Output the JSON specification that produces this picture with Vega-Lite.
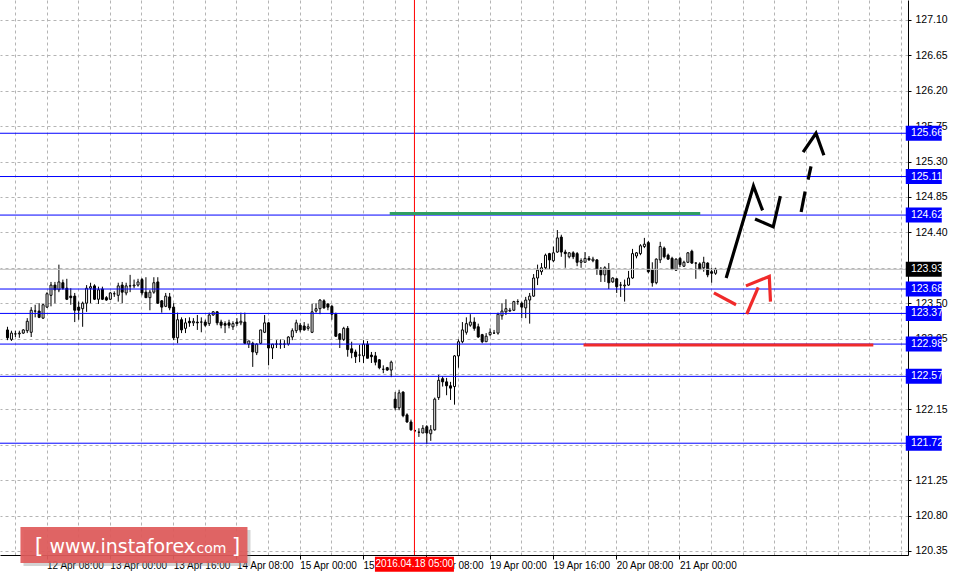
{
  "$schema": "https://vega.github.io/schema/vega-lite/v6.json",
  "width": 908,
  "height": 555,
  "autosize": "none",
  "padding": {"left": 0, "top": 0, "right": 51, "bottom": 22},
  "background": "white",
  "config": {
    "view": {"stroke": null},
    "font": "Liberation Sans",
    "axis": {"labelFont": "Liberation Sans", "labelFontSize": 10, "labelColor": "black", "zindex": 0}
  },
  "datasets": {
    "candles": [
      {"i":0,"o":123.16,"h":123.20,"l":123.03,"c":123.06},
      {"i":1,"o":123.04,"h":123.15,"l":123.02,"c":123.12},
      {"i":2,"o":123.11,"h":123.15,"l":123.07,"c":123.11},
      {"i":3,"o":123.11,"h":123.15,"l":123.06,"c":123.12},
      {"i":4,"o":123.12,"h":123.17,"l":123.11,"c":123.16},
      {"i":5,"o":123.15,"h":123.31,"l":123.12,"c":123.27},
      {"i":6,"o":123.13,"h":123.45,"l":123.07,"c":123.41},
      {"i":7,"o":123.40,"h":123.48,"l":123.32,"c":123.40},
      {"i":8,"o":123.40,"h":123.50,"l":123.31,"c":123.32},
      {"i":9,"o":123.31,"h":123.49,"l":123.30,"c":123.48},
      {"i":10,"o":123.45,"h":123.64,"l":123.44,"c":123.62},
      {"i":11,"o":123.60,"h":123.77,"l":123.46,"c":123.73},
      {"i":12,"o":123.73,"h":123.77,"l":123.50,"c":123.67},
      {"i":13,"o":123.67,"h":123.99,"l":123.64,"c":123.77},
      {"i":14,"o":123.76,"h":123.80,"l":123.67,"c":123.69},
      {"i":15,"o":123.69,"h":123.81,"l":123.54,"c":123.55},
      {"i":16,"o":123.59,"h":123.69,"l":123.48,"c":123.57},
      {"i":17,"o":123.59,"h":123.63,"l":123.26,"c":123.41},
      {"i":18,"o":123.45,"h":123.52,"l":123.29,"c":123.41},
      {"i":19,"o":123.43,"h":123.52,"l":123.20,"c":123.50},
      {"i":20,"o":123.50,"h":123.73,"l":123.39,"c":123.69},
      {"i":21,"o":123.69,"h":123.76,"l":123.50,"c":123.71},
      {"i":22,"o":123.72,"h":123.74,"l":123.54,"c":123.55},
      {"i":23,"o":123.55,"h":123.71,"l":123.49,"c":123.67},
      {"i":24,"o":123.68,"h":123.71,"l":123.54,"c":123.55},
      {"i":25,"o":123.57,"h":123.59,"l":123.53,"c":123.54},
      {"i":26,"o":123.55,"h":123.64,"l":123.54,"c":123.63},
      {"i":27,"o":123.62,"h":123.65,"l":123.58,"c":123.62},
      {"i":28,"o":123.60,"h":123.76,"l":123.52,"c":123.72},
      {"i":29,"o":123.73,"h":123.77,"l":123.50,"c":123.64},
      {"i":30,"o":123.63,"h":123.76,"l":123.60,"c":123.72},
      {"i":31,"o":123.72,"h":123.86,"l":123.64,"c":123.72},
      {"i":32,"o":123.72,"h":123.80,"l":123.69,"c":123.73},
      {"i":33,"o":123.73,"h":123.81,"l":123.71,"c":123.77},
      {"i":34,"o":123.80,"h":123.82,"l":123.60,"c":123.63},
      {"i":35,"o":123.64,"h":123.83,"l":123.57,"c":123.57},
      {"i":36,"o":123.57,"h":123.67,"l":123.41,"c":123.64},
      {"i":37,"o":123.64,"h":123.83,"l":123.62,"c":123.76},
      {"i":38,"o":123.77,"h":123.83,"l":123.49,"c":123.50},
      {"i":39,"o":123.53,"h":123.54,"l":123.38,"c":123.45},
      {"i":40,"o":123.46,"h":123.63,"l":123.45,"c":123.59},
      {"i":41,"o":123.58,"h":123.63,"l":123.41,"c":123.44},
      {"i":42,"o":123.45,"h":123.50,"l":123.03,"c":123.06},
      {"i":43,"o":123.06,"h":123.38,"l":122.99,"c":123.29},
      {"i":44,"o":123.29,"h":123.32,"l":123.12,"c":123.16},
      {"i":45,"o":123.18,"h":123.31,"l":123.12,"c":123.25},
      {"i":46,"o":123.27,"h":123.32,"l":123.20,"c":123.25},
      {"i":47,"o":123.25,"h":123.31,"l":123.21,"c":123.27},
      {"i":48,"o":123.26,"h":123.35,"l":123.16,"c":123.25},
      {"i":49,"o":123.26,"h":123.32,"l":123.13,"c":123.26},
      {"i":50,"o":123.26,"h":123.29,"l":123.20,"c":123.22},
      {"i":51,"o":123.24,"h":123.38,"l":123.21,"c":123.35},
      {"i":52,"o":123.35,"h":123.40,"l":123.34,"c":123.39},
      {"i":53,"o":123.39,"h":123.40,"l":123.22,"c":123.25},
      {"i":54,"o":123.26,"h":123.29,"l":123.18,"c":123.22},
      {"i":55,"o":123.24,"h":123.27,"l":123.12,"c":123.22},
      {"i":56,"o":123.25,"h":123.29,"l":123.18,"c":123.22},
      {"i":57,"o":123.20,"h":123.27,"l":123.16,"c":123.24},
      {"i":58,"o":123.26,"h":123.31,"l":123.21,"c":123.24},
      {"i":59,"o":123.25,"h":123.38,"l":123.22,"c":123.27},
      {"i":60,"o":123.26,"h":123.38,"l":122.98,"c":122.99},
      {"i":61,"o":122.98,"h":123.02,"l":122.93,"c":123.02},
      {"i":62,"o":122.99,"h":123.01,"l":122.69,"c":122.88},
      {"i":63,"o":122.87,"h":122.99,"l":122.84,"c":122.98},
      {"i":64,"o":122.99,"h":123.16,"l":122.98,"c":123.16},
      {"i":65,"o":123.13,"h":123.35,"l":123.12,"c":123.25},
      {"i":66,"o":123.25,"h":123.26,"l":122.71,"c":122.93},
      {"i":67,"o":122.93,"h":122.98,"l":122.79,"c":122.98},
      {"i":68,"o":122.98,"h":123.03,"l":122.93,"c":122.98},
      {"i":69,"o":122.98,"h":123.04,"l":122.92,"c":122.98},
      {"i":70,"o":122.98,"h":123.03,"l":122.93,"c":122.98},
      {"i":71,"o":122.98,"h":123.08,"l":122.96,"c":123.07},
      {"i":72,"o":123.07,"h":123.18,"l":123.03,"c":123.15},
      {"i":73,"o":123.15,"h":123.29,"l":123.12,"c":123.25},
      {"i":74,"o":123.22,"h":123.25,"l":123.13,"c":123.16},
      {"i":75,"o":123.21,"h":123.26,"l":123.15,"c":123.16},
      {"i":76,"o":123.18,"h":123.24,"l":123.15,"c":123.20},
      {"i":77,"o":123.13,"h":123.49,"l":123.12,"c":123.39},
      {"i":78,"o":123.40,"h":123.50,"l":123.38,"c":123.43},
      {"i":79,"o":123.43,"h":123.55,"l":123.36,"c":123.54},
      {"i":80,"o":123.53,"h":123.55,"l":123.43,"c":123.44},
      {"i":81,"o":123.49,"h":123.50,"l":123.41,"c":123.45},
      {"i":82,"o":123.46,"h":123.48,"l":123.29,"c":123.36},
      {"i":83,"o":123.36,"h":123.38,"l":123.07,"c":123.08},
      {"i":84,"o":123.11,"h":123.12,"l":122.93,"c":123.04},
      {"i":85,"o":123.04,"h":123.20,"l":123.02,"c":123.18},
      {"i":86,"o":123.18,"h":123.21,"l":122.82,"c":122.91},
      {"i":87,"o":122.92,"h":123.01,"l":122.80,"c":122.87},
      {"i":88,"o":122.88,"h":122.91,"l":122.74,"c":122.82},
      {"i":89,"o":122.84,"h":122.97,"l":122.75,"c":122.84},
      {"i":90,"o":122.83,"h":123.03,"l":122.74,"c":122.98},
      {"i":91,"o":122.98,"h":123.02,"l":122.80,"c":122.80},
      {"i":92,"o":122.84,"h":122.88,"l":122.74,"c":122.82},
      {"i":93,"o":122.83,"h":122.88,"l":122.71,"c":122.75},
      {"i":94,"o":122.78,"h":122.79,"l":122.66,"c":122.68},
      {"i":95,"o":122.66,"h":122.71,"l":122.61,"c":122.66},
      {"i":96,"o":122.68,"h":122.69,"l":122.64,"c":122.65},
      {"i":97,"o":122.65,"h":122.77,"l":122.56,"c":122.75},
      {"i":98,"o":122.28,"h":122.37,"l":122.14,"c":122.17},
      {"i":99,"o":122.17,"h":122.40,"l":122.14,"c":122.36},
      {"i":100,"o":122.37,"h":122.38,"l":122.05,"c":122.07},
      {"i":101,"o":122.08,"h":122.10,"l":121.98,"c":121.99},
      {"i":102,"o":121.99,"h":122.02,"l":121.88,"c":121.89},
      {"i":103,"o":121.88,"h":121.89,"l":121.86,"c":121.88},
      {"i":104,"o":121.86,"h":121.91,"l":121.80,"c":121.86},
      {"i":105,"o":121.85,"h":121.95,"l":121.85,"c":121.91},
      {"i":106,"o":121.93,"h":121.95,"l":121.71,"c":121.85},
      {"i":107,"o":121.84,"h":121.95,"l":121.75,"c":121.89},
      {"i":108,"o":121.89,"h":122.30,"l":121.88,"c":122.28},
      {"i":109,"o":122.30,"h":122.59,"l":122.27,"c":122.52},
      {"i":110,"o":122.54,"h":122.57,"l":122.44,"c":122.50},
      {"i":111,"o":122.50,"h":122.55,"l":122.33,"c":122.45},
      {"i":112,"o":122.45,"h":122.50,"l":122.27,"c":122.42},
      {"i":113,"o":122.44,"h":122.84,"l":122.21,"c":122.83},
      {"i":114,"o":122.83,"h":123.04,"l":122.68,"c":123.01},
      {"i":115,"o":123.01,"h":123.26,"l":122.99,"c":123.16},
      {"i":116,"o":123.13,"h":123.32,"l":123.10,"c":123.24},
      {"i":117,"o":123.22,"h":123.36,"l":123.20,"c":123.26},
      {"i":118,"o":123.26,"h":123.32,"l":123.15,"c":123.18},
      {"i":119,"o":123.20,"h":123.24,"l":123.06,"c":123.07},
      {"i":120,"o":123.10,"h":123.11,"l":122.99,"c":123.01},
      {"i":121,"o":123.01,"h":123.12,"l":123.01,"c":123.08},
      {"i":122,"o":123.10,"h":123.18,"l":123.08,"c":123.13},
      {"i":123,"o":123.12,"h":123.16,"l":123.11,"c":123.12},
      {"i":124,"o":123.12,"h":123.38,"l":123.10,"c":123.36},
      {"i":125,"o":123.34,"h":123.50,"l":123.29,"c":123.40},
      {"i":126,"o":123.39,"h":123.55,"l":123.35,"c":123.43},
      {"i":127,"o":123.40,"h":123.44,"l":123.39,"c":123.41},
      {"i":128,"o":123.41,"h":123.53,"l":123.40,"c":123.52},
      {"i":129,"o":123.52,"h":123.55,"l":123.48,"c":123.52},
      {"i":130,"o":123.50,"h":123.52,"l":123.31,"c":123.45},
      {"i":131,"o":123.44,"h":123.58,"l":123.31,"c":123.54},
      {"i":132,"o":123.54,"h":123.63,"l":123.24,"c":123.59},
      {"i":133,"o":123.59,"h":123.87,"l":123.58,"c":123.82},
      {"i":134,"o":123.82,"h":123.99,"l":123.73,"c":123.92},
      {"i":135,"o":123.90,"h":124.01,"l":123.86,"c":123.95},
      {"i":136,"o":123.95,"h":124.13,"l":123.93,"c":124.11},
      {"i":137,"o":124.13,"h":124.14,"l":123.93,"c":124.05},
      {"i":138,"o":124.04,"h":124.22,"l":124.02,"c":124.14},
      {"i":139,"o":124.15,"h":124.43,"l":124.14,"c":124.33},
      {"i":140,"o":124.34,"h":124.37,"l":124.09,"c":124.15},
      {"i":141,"o":124.15,"h":124.18,"l":123.95,"c":124.13},
      {"i":142,"o":124.09,"h":124.15,"l":124.07,"c":124.14},
      {"i":143,"o":124.14,"h":124.16,"l":124.06,"c":124.09},
      {"i":144,"o":124.13,"h":124.15,"l":123.97,"c":124.02},
      {"i":145,"o":124.02,"h":124.07,"l":123.95,"c":124.04},
      {"i":146,"o":124.02,"h":124.15,"l":124.02,"c":124.07},
      {"i":147,"o":124.07,"h":124.10,"l":124.04,"c":124.05},
      {"i":148,"o":124.04,"h":124.09,"l":124.02,"c":124.06},
      {"i":149,"o":124.05,"h":124.06,"l":123.86,"c":123.93},
      {"i":150,"o":123.92,"h":123.96,"l":123.77,"c":123.86},
      {"i":151,"o":123.86,"h":123.97,"l":123.77,"c":123.95},
      {"i":152,"o":123.93,"h":124.01,"l":123.68,"c":123.76},
      {"i":153,"o":123.77,"h":123.83,"l":123.76,"c":123.82},
      {"i":154,"o":123.81,"h":123.82,"l":123.63,"c":123.71},
      {"i":155,"o":123.73,"h":123.77,"l":123.58,"c":123.73},
      {"i":156,"o":123.72,"h":123.80,"l":123.52,"c":123.73},
      {"i":157,"o":123.73,"h":123.91,"l":123.72,"c":123.82},
      {"i":158,"o":123.82,"h":124.19,"l":123.81,"c":124.13},
      {"i":159,"o":124.10,"h":124.15,"l":124.07,"c":124.14},
      {"i":160,"o":124.13,"h":124.25,"l":124.11,"c":124.23},
      {"i":161,"o":124.22,"h":124.33,"l":124.20,"c":124.25},
      {"i":162,"o":124.27,"h":124.29,"l":123.88,"c":123.90},
      {"i":163,"o":123.92,"h":124.02,"l":123.71,"c":123.76},
      {"i":164,"o":123.76,"h":124.07,"l":123.74,"c":124.06},
      {"i":165,"o":124.05,"h":124.28,"l":124.01,"c":124.22},
      {"i":166,"o":124.20,"h":124.22,"l":124.07,"c":124.09},
      {"i":167,"o":124.11,"h":124.13,"l":124.05,"c":124.06},
      {"i":168,"o":124.07,"h":124.09,"l":123.92,"c":123.93},
      {"i":169,"o":123.92,"h":124.07,"l":123.91,"c":124.06},
      {"i":170,"o":124.07,"h":124.09,"l":123.96,"c":123.99},
      {"i":171,"o":123.97,"h":124.04,"l":123.96,"c":124.02},
      {"i":172,"o":124.02,"h":124.15,"l":124.01,"c":124.14},
      {"i":173,"o":124.16,"h":124.18,"l":124.00,"c":124.01},
      {"i":174,"o":124.01,"h":124.02,"l":123.81,"c":124.01},
      {"i":175,"o":124.00,"h":124.02,"l":123.92,"c":123.93},
      {"i":176,"o":123.95,"h":124.09,"l":123.90,"c":124.02},
      {"i":177,"o":124.01,"h":124.02,"l":123.83,"c":123.86},
      {"i":178,"o":123.90,"h":123.95,"l":123.76,"c":123.88},
      {"i":179,"o":123.88,"h":123.95,"l":123.86,"c":123.93}
    ],
    "levels": [{"p":125.66},{"p":125.11},{"p":124.62},{"p":123.68},{"p":123.37},{"p":122.98},{"p":122.57},{"p":121.72}],
    "bid": [{"p":123.93}],
    "segments": [
      {"name":"green","i1":96.75,"i2":175.25,"p":124.64},
      {"name":"red","i1":145.75,"i2":219,"p":122.97}
    ],
    "blackPaths": [
      {"g":"b1","k":0,"i":181.8,"p":123.82},
      {"g":"b1","k":1,"i":188.7,"p":124.99},
      {"g":"b1","k":2,"i":191.0,"p":124.68},
      {"g":"b2","k":0,"i":189.1,"p":124.57},
      {"g":"b2","k":1,"i":193.7,"p":124.47},
      {"g":"b2","k":2,"i":195.5,"p":124.86},
      {"g":"b3","k":0,"i":200.75,"p":124.66},
      {"g":"b3","k":1,"i":201.75,"p":124.92},
      {"g":"b4","k":0,"i":202.5,"p":125.07},
      {"g":"b4","k":1,"i":203.25,"p":125.24},
      {"g":"b5","k":0,"i":201.25,"p":125.42},
      {"g":"b5","k":1,"i":204.5,"p":125.66},
      {"g":"b5","k":2,"i":206.5,"p":125.38}
    ],
    "redPaths": [
      {"g":"r1","k":0,"i":178.7,"p":123.63},
      {"g":"r1","k":1,"i":184.3,"p":123.48},
      {"g":"r2","k":0,"i":187.0,"p":123.36},
      {"g":"r2","k":1,"i":189.9,"p":123.70},
      {"g":"r3","k":0,"i":186.8,"p":123.72},
      {"g":"r3","k":1,"i":192.7,"p":123.84},
      {"g":"r3","k":2,"i":193.0,"p":123.52}
    ],
    "marker": [{"i":103,"label":"2016.04.18 05:00"}]
  },
  "resolve": {"axis": {"x": "independent", "y": "independent"}},
  "layer": [
    {
      "data": {"name": "candles"},
      "mark": {"type": "rule", "color": "black", "strokeWidth": 1, "xOffset": 0.5},
      "encoding": {
        "x": {"field": "i", "type": "quantitative",
          "scale": {"domain": [-0.5, 226.5], "nice": false, "zero": false},
          "axis": {"orient": "bottom", "zindex": 0, "values": [2,10,18,26,34,42,50,58,66,74,82,90,98,106,114,122,130,138,146,154,162,170,178,186,194,202,210,218,226],
            "labels": false, "ticks": false, "domain": false, "grid": true, "gridColor": "#b4b4b4", "gridDash": [3,3], "gridWidth": 1, "title": null}},
        "y": {"field": "l", "type": "quantitative",
          "scale": {"domain": [120.299, 127.354], "nice": false, "zero": false},
          "axis": {"orient": "right", "zindex": 0, "values": [127.1,126.65,126.2,125.75,125.3,124.85,124.4,123.95,123.5,123.05,122.6,122.15,121.7,121.25,120.8,120.35],
            "format": ".2f",
            "labelExpr": "(abs(datum.value-123.95)<0.001 || abs(datum.value-122.6)<0.001 || abs(datum.value-121.7)<0.001) ? '' : datum.label",
            "grid": true, "gridColor": "#b4b4b4", "gridDash": [3,3], "tickSize": 3, "tickColor": "black",
            "domainColor": "black", "labelPadding": 4, "labelFontSize": 10.5, "labelFlush": false, "labelOverlap": false, "title": null}},
        "y2": {"field": "h"}
      }
    },
    {
      "data": {"name": "candles"},
      "mark": {"type": "bar", "width": 2, "stroke": "black", "strokeWidth": 1, "xOffset": 0.5},
      "encoding": {
        "x": {"field": "i", "type": "quantitative",
          "axis": {"orient": "bottom", "zindex": 0, "values": [-6,10,26,42,58,74,90,106,122,138,154,170],
            "labelExpr": "['11 Apr 16:00','12 Apr 08:00','13 Apr 00:00','13 Apr 16:00','14 Apr 08:00','15 Apr 00:00','15 Apr 16:00','18 Apr 08:00','19 Apr 00:00','19 Apr 16:00','20 Apr 08:00','21 Apr 00:00'][round((datum.value+6)/16)]",
            "labelAlign": "left", "labelBaseline": "top", "labelPadding": 1, "labelFlush": false, "labelOverlap": false,
            "tickSize": 4, "tickColor": "black", "domainColor": "black", "grid": false, "title": null}},
        "y": {"field": "o", "type": "quantitative", "axis": null},
        "y2": {"field": "c"},
        "fill": {"condition": {"test": "datum.c >= datum.o", "value": "white"}, "value": "black"}
      }
    },
    {
      "data": {"name": "bid"},
      "mark": {"type": "rule", "color": "#c0c0c0", "strokeWidth": 1},
      "encoding": {"y": {"field": "p", "type": "quantitative", "axis": null}}
    },
    {
      "data": {"name": "levels"},
      "mark": {"type": "rule", "color": "#0000ff", "strokeWidth": 1},
      "encoding": {"y": {"field": "p", "type": "quantitative", "axis": null}}
    },
    {
      "data": {"name": "marker"},
      "mark": {"type": "rule", "color": "#ff0000", "strokeWidth": 1},
      "encoding": {"x": {"field": "i", "type": "quantitative", "axis": null}}
    },
    {
      "data": {"name": "segments"},
      "mark": {"type": "rule", "strokeWidth": 3},
      "encoding": {
        "x": {"field": "i1", "type": "quantitative", "axis": null},
        "x2": {"field": "i2"},
        "y": {"field": "p", "type": "quantitative", "axis": null},
        "color": {"field": "name", "type": "nominal", "scale": {"domain": ["green","red"], "range": ["#2f9e62","#f02a2a"]}, "legend": null}
      }
    },
    {
      "data": {"name": "blackPaths"},
      "mark": {"type": "line", "color": "black", "strokeWidth": 3.2, "strokeJoin": "miter"},
      "encoding": {
        "x": {"field": "i", "type": "quantitative", "axis": null},
        "y": {"field": "p", "type": "quantitative", "axis": null},
        "detail": {"field": "g"},
        "order": {"field": "k"}
      }
    },
    {
      "data": {"name": "redPaths"},
      "mark": {"type": "line", "color": "#f02a2a", "strokeWidth": 3.2, "strokeJoin": "miter"},
      "encoding": {
        "x": {"field": "i", "type": "quantitative", "axis": null},
        "y": {"field": "p", "type": "quantitative", "axis": null},
        "detail": {"field": "g"},
        "order": {"field": "k"}
      }
    },
    {
      "data": {"name": "levels"},
      "mark": {"type": "tick", "orient": "horizontal", "size": 36, "thickness": 15, "color": "#0000ff", "opacity": 1, "clip": false},
      "encoding": {
        "x": {"datum": 231.75, "type": "quantitative", "axis": null},
        "y": {"field": "p", "type": "quantitative", "axis": null}
      }
    },
    {
      "data": {"name": "bid"},
      "mark": {"type": "tick", "orient": "horizontal", "size": 36, "thickness": 15, "color": "black", "opacity": 1, "clip": false},
      "encoding": {
        "x": {"datum": 231.75, "type": "quantitative", "axis": null},
        "y": {"field": "p", "type": "quantitative", "axis": null}
      }
    },
    {
      "data": {"name": "levels"},
      "mark": {"type": "text", "align": "left", "baseline": "middle", "color": "white", "font": "Liberation Sans", "fontSize": 10.5, "clip": false},
      "encoding": {
        "x": {"datum": 228.5, "type": "quantitative", "axis": null},
        "y": {"field": "p", "type": "quantitative", "axis": null},
        "text": {"field": "p", "type": "quantitative", "format": ".2f"}
      }
    },
    {
      "data": {"name": "bid"},
      "mark": {"type": "text", "align": "left", "baseline": "middle", "color": "white", "font": "Liberation Sans", "fontSize": 10.5, "clip": false},
      "encoding": {
        "x": {"datum": 228.5, "type": "quantitative", "axis": null},
        "y": {"field": "p", "type": "quantitative", "axis": null},
        "text": {"field": "p", "type": "quantitative", "format": ".2f"}
      }
    },
    {
      "data": {"name": "marker"},
      "mark": {"type": "tick", "orient": "horizontal", "size": 79, "thickness": 15, "color": "#ff0000", "opacity": 1, "clip": false},
      "encoding": {
        "x": {"field": "i", "type": "quantitative", "axis": null},
        "y": {"datum": 120.18, "type": "quantitative", "axis": null}
      }
    },
    {
      "data": {"name": "marker"},
      "mark": {"type": "text", "align": "center", "baseline": "middle", "color": "white", "font": "Liberation Sans", "fontSize": 10, "clip": false},
      "encoding": {
        "x": {"field": "i", "type": "quantitative", "axis": null},
        "y": {"datum": 120.18, "type": "quantitative", "axis": null},
        "text": {"field": "label"}
      }
    },
    {
      "data": {"values": [{"t": "w"}]},
      "mark": {"type": "tick", "orient": "horizontal", "size": 227, "thickness": 36, "color": "#808080", "opacity": 0.35, "clip": false, "xOffset": 3, "yOffset": 3},
      "encoding": {
        "x": {"datum": 32.1, "type": "quantitative", "axis": null},
        "y": {"datum": 120.427, "type": "quantitative", "axis": null}
      }
    },
    {
      "data": {"values": [{"t": "w"}]},
      "mark": {"type": "tick", "orient": "horizontal", "size": 227, "thickness": 36, "color": "#e05a5a", "opacity": 0.92, "clip": false},
      "encoding": {
        "x": {"datum": 32.1, "type": "quantitative", "axis": null},
        "y": {"datum": 120.427, "type": "quantitative", "axis": null}
      }
    },
    {
      "data": {"values": [
        {"t": "[", "i": 7.0, "s": 22},
        {"t": "www.instaforex", "i": 10.75, "s": 19},
        {"t": ".com", "i": 46.8, "s": 14},
        {"t": "]", "i": 56.8, "s": 22}
      ]},
      "mark": {"type": "text", "align": "left", "baseline": "alphabetic", "color": "white", "font": "DejaVu Sans", "clip": false},
      "encoding": {
        "x": {"field": "i", "type": "quantitative", "axis": null},
        "y": {"datum": 120.33, "type": "quantitative", "axis": null},
        "text": {"field": "t"},
        "size": {"field": "s", "type": "quantitative", "scale": null, "legend": null}
      }
    }
  ]
}
